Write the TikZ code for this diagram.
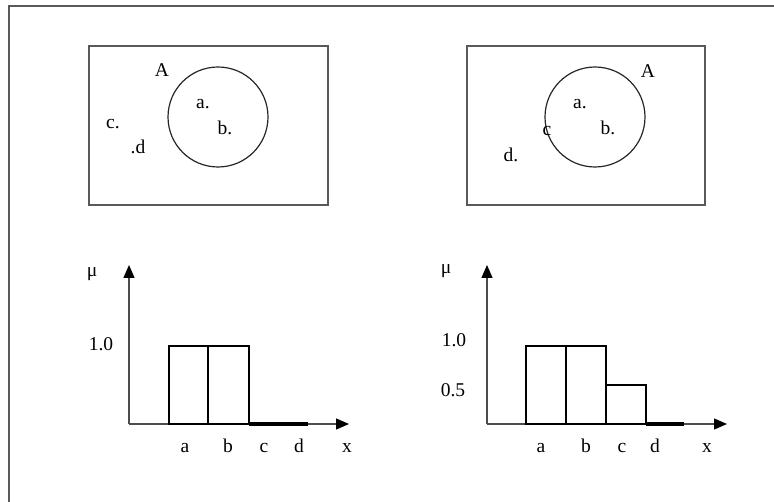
\documentclass[tikz,border=0pt]{standalone}
\usepackage{fontspec}
\setmainfont{Liberation Serif}
\usetikzlibrary{arrows.meta,positioning,calc}

\begin{document}
\begin{tikzpicture}[
x=1pt,y=-1pt,
frame/.style={draw=black!65,line width=1.4pt},
ring/.style={draw=black!85,line width=1.2pt},
bar/.style={draw=black,line width=2.4pt},
axis/.style={draw=black!70,line width=1.3pt,-{Triangle[length=13pt,width=11pt,color=black]}},
zero/.style={draw=black,line width=3.8pt},
lbl/.style={inner sep=0pt,yshift=-3pt,text height=1.4ex,text depth=0.25ex,font=\fontsize{19.5}{21}\selectfont}
]
\useasboundingbox (0,0) rectangle (774,502);
% outer frame, only top and left edge inside the page
\draw[frame] (9,510) -- (9,6) -- (780,6);
% crisp set
\draw[frame] (89,46) rectangle (328,205);
\node[ring,circle,minimum size=100pt,inner sep=0pt] (setA) at (218,117) {};
\node[lbl] (nA) at (162,71) {A};
\node[lbl] (na) at (203,103) {a.};
\node[lbl] (nb) at (225,129) {b.};
\node[lbl] (nc) at (113,123) {c.};
\node[lbl] (nd) at (138,148) {.d};
% fuzzy set
\draw[frame] (467,46) rectangle (705,205);
\node[ring,circle,minimum size=100pt,inner sep=0pt] (fsetA) at (595,117) {};
\node[lbl] (fA) at (648,72) {A};
\node[lbl] (fa) at (580,103) {a.};
\node[lbl] (fb) at (608,129) {b.};
\node[lbl] (fc) at (547,130) {c};
\node[lbl] (fd) at (511,156) {d.};
% crisp membership
\coordinate (o1) at (129,424);
\coordinate (y1) at (129,265);
\coordinate (x1) at (349,424);
\draw[axis] (o1) -- (y1);
\draw[axis] (o1) -- (x1);
\draw[bar] (169,424) rectangle (208,346);
\draw[bar] (208,424) rectangle (249,346);
\draw[zero] (249,424) -- (308,424);
\node[lbl] (mu1) at (92,271) {μ};
\node[lbl] (one1) at (101,345) {1.0};
\node[lbl] (xa1) at (185,447) {a};
\node[lbl] (xb1) at (228,447) {b};
\node[lbl] (xc1) at (264,447) {c};
\node[lbl] (xd1) at (299,447) {d};
\node[lbl] (xx1) at (347,447) {x};
% fuzzy membership
\coordinate (o2) at (487,424);
\coordinate (y2) at (487,265);
\coordinate (x2) at (727,424);
\draw[axis] (o2) -- (y2);
\draw[axis] (o2) -- (x2);
\draw[bar] (526,424) rectangle (566,346);
\draw[bar] (566,424) rectangle (606,346);
\draw[bar] (606,424) rectangle (646,385);
\draw[zero] (646,424) -- (684,424);
\node[lbl] (mu2) at (446,268) {μ};
\node[lbl] (one2) at (454,341) {1.0};
\node[lbl] (half2) at (453,391) {0.5};
\node[lbl] (xa2) at (541,447) {a};
\node[lbl] (xb2) at (586,447) {b};
\node[lbl] (xc2) at (622,447) {c};
\node[lbl] (xd2) at (655,447) {d};
\node[lbl] (xx2) at (707,447) {x};
\end{tikzpicture}
\end{document}
